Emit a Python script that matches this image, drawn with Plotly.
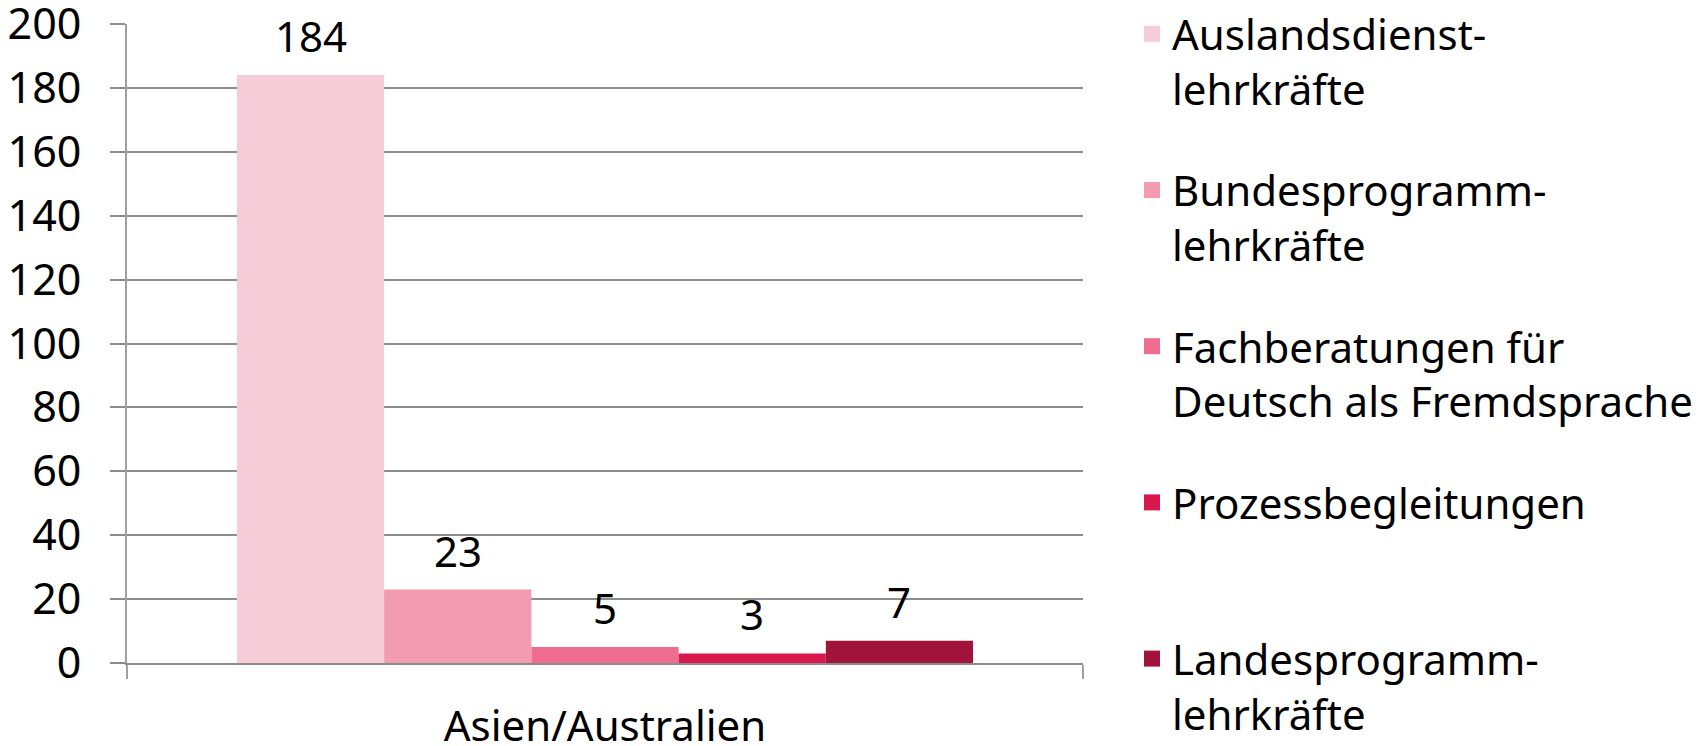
import plotly.graph_objects as go

# ---- data ----
categories = ["Asien/Australien"]
series_names = [
    "Auslandsdienst-<br>lehrkräfte",
    "Bundesprogramm-<br>lehrkräfte",
    "Fachberatungen für<br>Deutsch als Fremdsprache",
    "Prozessbegleitungen<br> ",
    "Landesprogramm-<br>lehrkräfte",
]
series_values = [184, 23, 5, 3, 7]
series_colors = ["#F7CCD9", "#F39BB1", "#EF6D8F", "#D8184D", "#A1133A"]
y_ticks = [0, 20, 40, 60, 80, 100, 120, 140, 160, 180, 200]

FONT = "Noto Sans"
GRID = "#8C8C8C"
BARGAP = 0.23
W, H = 1707, 746
OFF = 8  # page offset of the figure (body margin) compensated in margins

fig = go.Figure()
for name, val, col in zip(series_names, series_values, series_colors):
    fig.add_trace(go.Bar(
        x=categories, y=[val], name=name, marker=dict(color=col, line=dict(width=0)),
        showlegend=False, legendgroup=name,
    ))
# legend proxies (larger square symbols)
for name, col in zip(series_names, series_colors):
    fig.add_trace(go.Scatter(
        x=[None], y=[None], mode="markers", name=name, legendgroup=name,
        marker=dict(symbol="square", size=16, color=col),
    ))

# value labels above bars (positions derived from group layout)
n = len(series_values)
w = 1 - BARGAP
for i, val in enumerate(series_values):
    xc = -w / 2 + (i + 0.5) * w / n
    fig.add_annotation(
        x=xc, y=val, xref="x", yref="y", text=str(val), showarrow=False,
        yanchor="bottom", xanchor="center", yshift=9,
        font=dict(family=FONT, size=42, color="#000000"),
    )

left, right, top, bottom = 127 - OFF, 1083 - OFF, 24 - OFF, 663 - OFF
fig.update_layout(
    width=W, height=H,
    margin=dict(l=left, r=W - right, t=top, b=H - bottom, autoexpand=False),
    paper_bgcolor="white", plot_bgcolor="white",
    barmode="group", bargap=BARGAP, bargroupgap=0,
    font=dict(family=FONT, color="#000000"),
    legend=dict(
        x=(1132 - OFF - left) / (right - left), xref="paper", xanchor="left",
        y=(bottom + OFF) / (bottom - top), yref="paper", yanchor="top",
        font=dict(family=FONT, size=42, color="#000000"),
        valign="top", tracegroupgap=44, traceorder="grouped",
        bgcolor="rgba(0,0,0,0)", maxheight=900,
    ),
)
fig.update_yaxes(
    range=[0, 200], tickvals=y_ticks, ticktext=[str(v) for v in y_ticks],
    showgrid=True, gridcolor=GRID, gridwidth=1.5,
    ticks="outside", ticklen=15, tickcolor=GRID, tickwidth=1.5,
    showline=True, linecolor="#A0A0A0", linewidth=2,
    zeroline=False,
    tickfont=dict(family=FONT, size=43, color="#000000"),
    ticklabelstandoff=20, ticklabeloverflow="allow",
)
fig.update_xaxes(
    showgrid=False, showline=True, linecolor=GRID, linewidth=2,
    ticks="outside", tickson="boundaries", ticklen=14, tickcolor="#A0A0A0", tickwidth=2,
    tickfont=dict(family=FONT, size=42, color="#000000"),
    ticklabelstandoff=26, ticklabeloverflow="allow",
)

fig.write_html("out.html")
